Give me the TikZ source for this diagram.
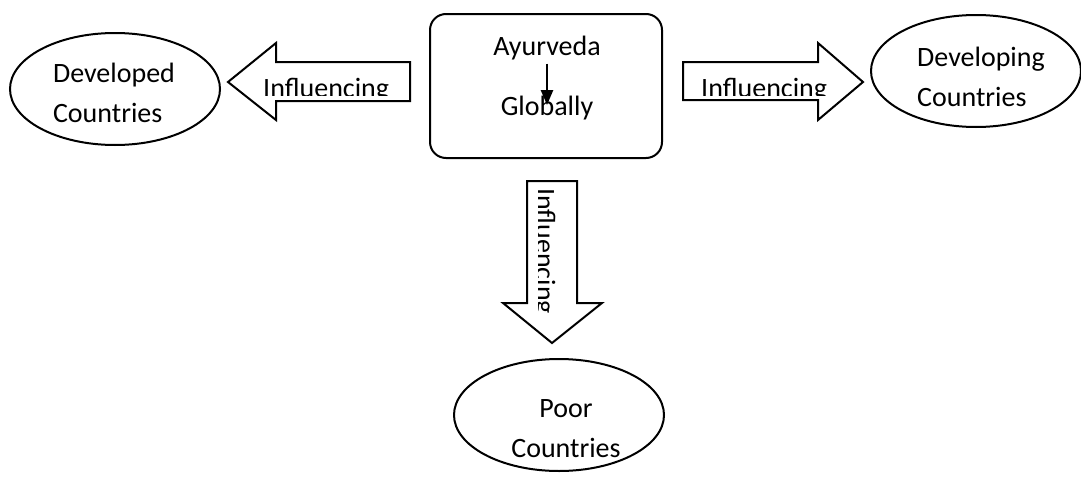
\documentclass[tikz,border=0pt]{standalone}
\usepackage{fontspec}
\setmainfont{Carlito}
\usetikzlibrary{shapes.geometric,arrows.meta}

\tikzset{
  country/.style={ellipse, draw, line width=2pt, minimum width=210pt, minimum height=112pt},
  blockarrow/.style={draw, line width=2pt, line join=miter},
}

\begin{document}
\begin{tikzpicture}[x=1pt,y=-1pt,font=\fontsize{28}{40}\selectfont]
\useasboundingbox (0,0) rectangle (1081,479);
\node [draw, line width=2pt, rounded corners=16pt, minimum width=232pt, minimum height=144pt] (core) at (546,86) {};
\node (ayur) at (547,48) {Ayurveda};
\node (glob) at (547,108) {Globally};
\draw [line width=2.5pt, -{Triangle[length=15pt,width=12pt]}] (ayur.south) -- ([yshift=3pt]glob.center);

\node [country] (developed) at (115,89) {};
\node [country] (developing) at (976,71) {};
\node [country] (poor) at (559,415) {};
\node [align=left] (developedtxt) at (114,93) {Developed\\Countries};
\node [align=left] (developingtxt) at (981,77) {Developing\\Countries};
\node [align=center] (poortxt) at (566,429) {Poor\\Countries};

\draw [blockarrow] (228,82) -- (276,43) -- (276,62) -- (410,62) -- (410,101) -- (276,101) -- (276,120) -- cycle;
\draw [blockarrow] (683,62) -- (818,62) -- (818,43) -- (863,82) -- (818,120) -- (818,100) -- (683,100) -- cycle;
\draw [blockarrow] (527,181) -- (577,181) -- (577,303) -- (602,303) -- (552,343) -- (503,303) -- (527,303) -- cycle;

\begin{scope}
\clip (228,62) rectangle (410,95);
\node [anchor=base west, inner sep=0pt] (inflleft) at (263,97) {Influencing};
\end{scope}
\begin{scope}
\clip (683,62) rectangle (863,95);
\node [anchor=base west, inner sep=0pt] (inflright) at (701,97) {Influencing};
\end{scope}
\begin{scope}
\clip (538,181) rectangle (577,343);
\node [anchor=base west, inner sep=0pt, rotate=-90] (infldown) at (536,188) {Influencing};
\end{scope}
\end{tikzpicture}
\end{document}
